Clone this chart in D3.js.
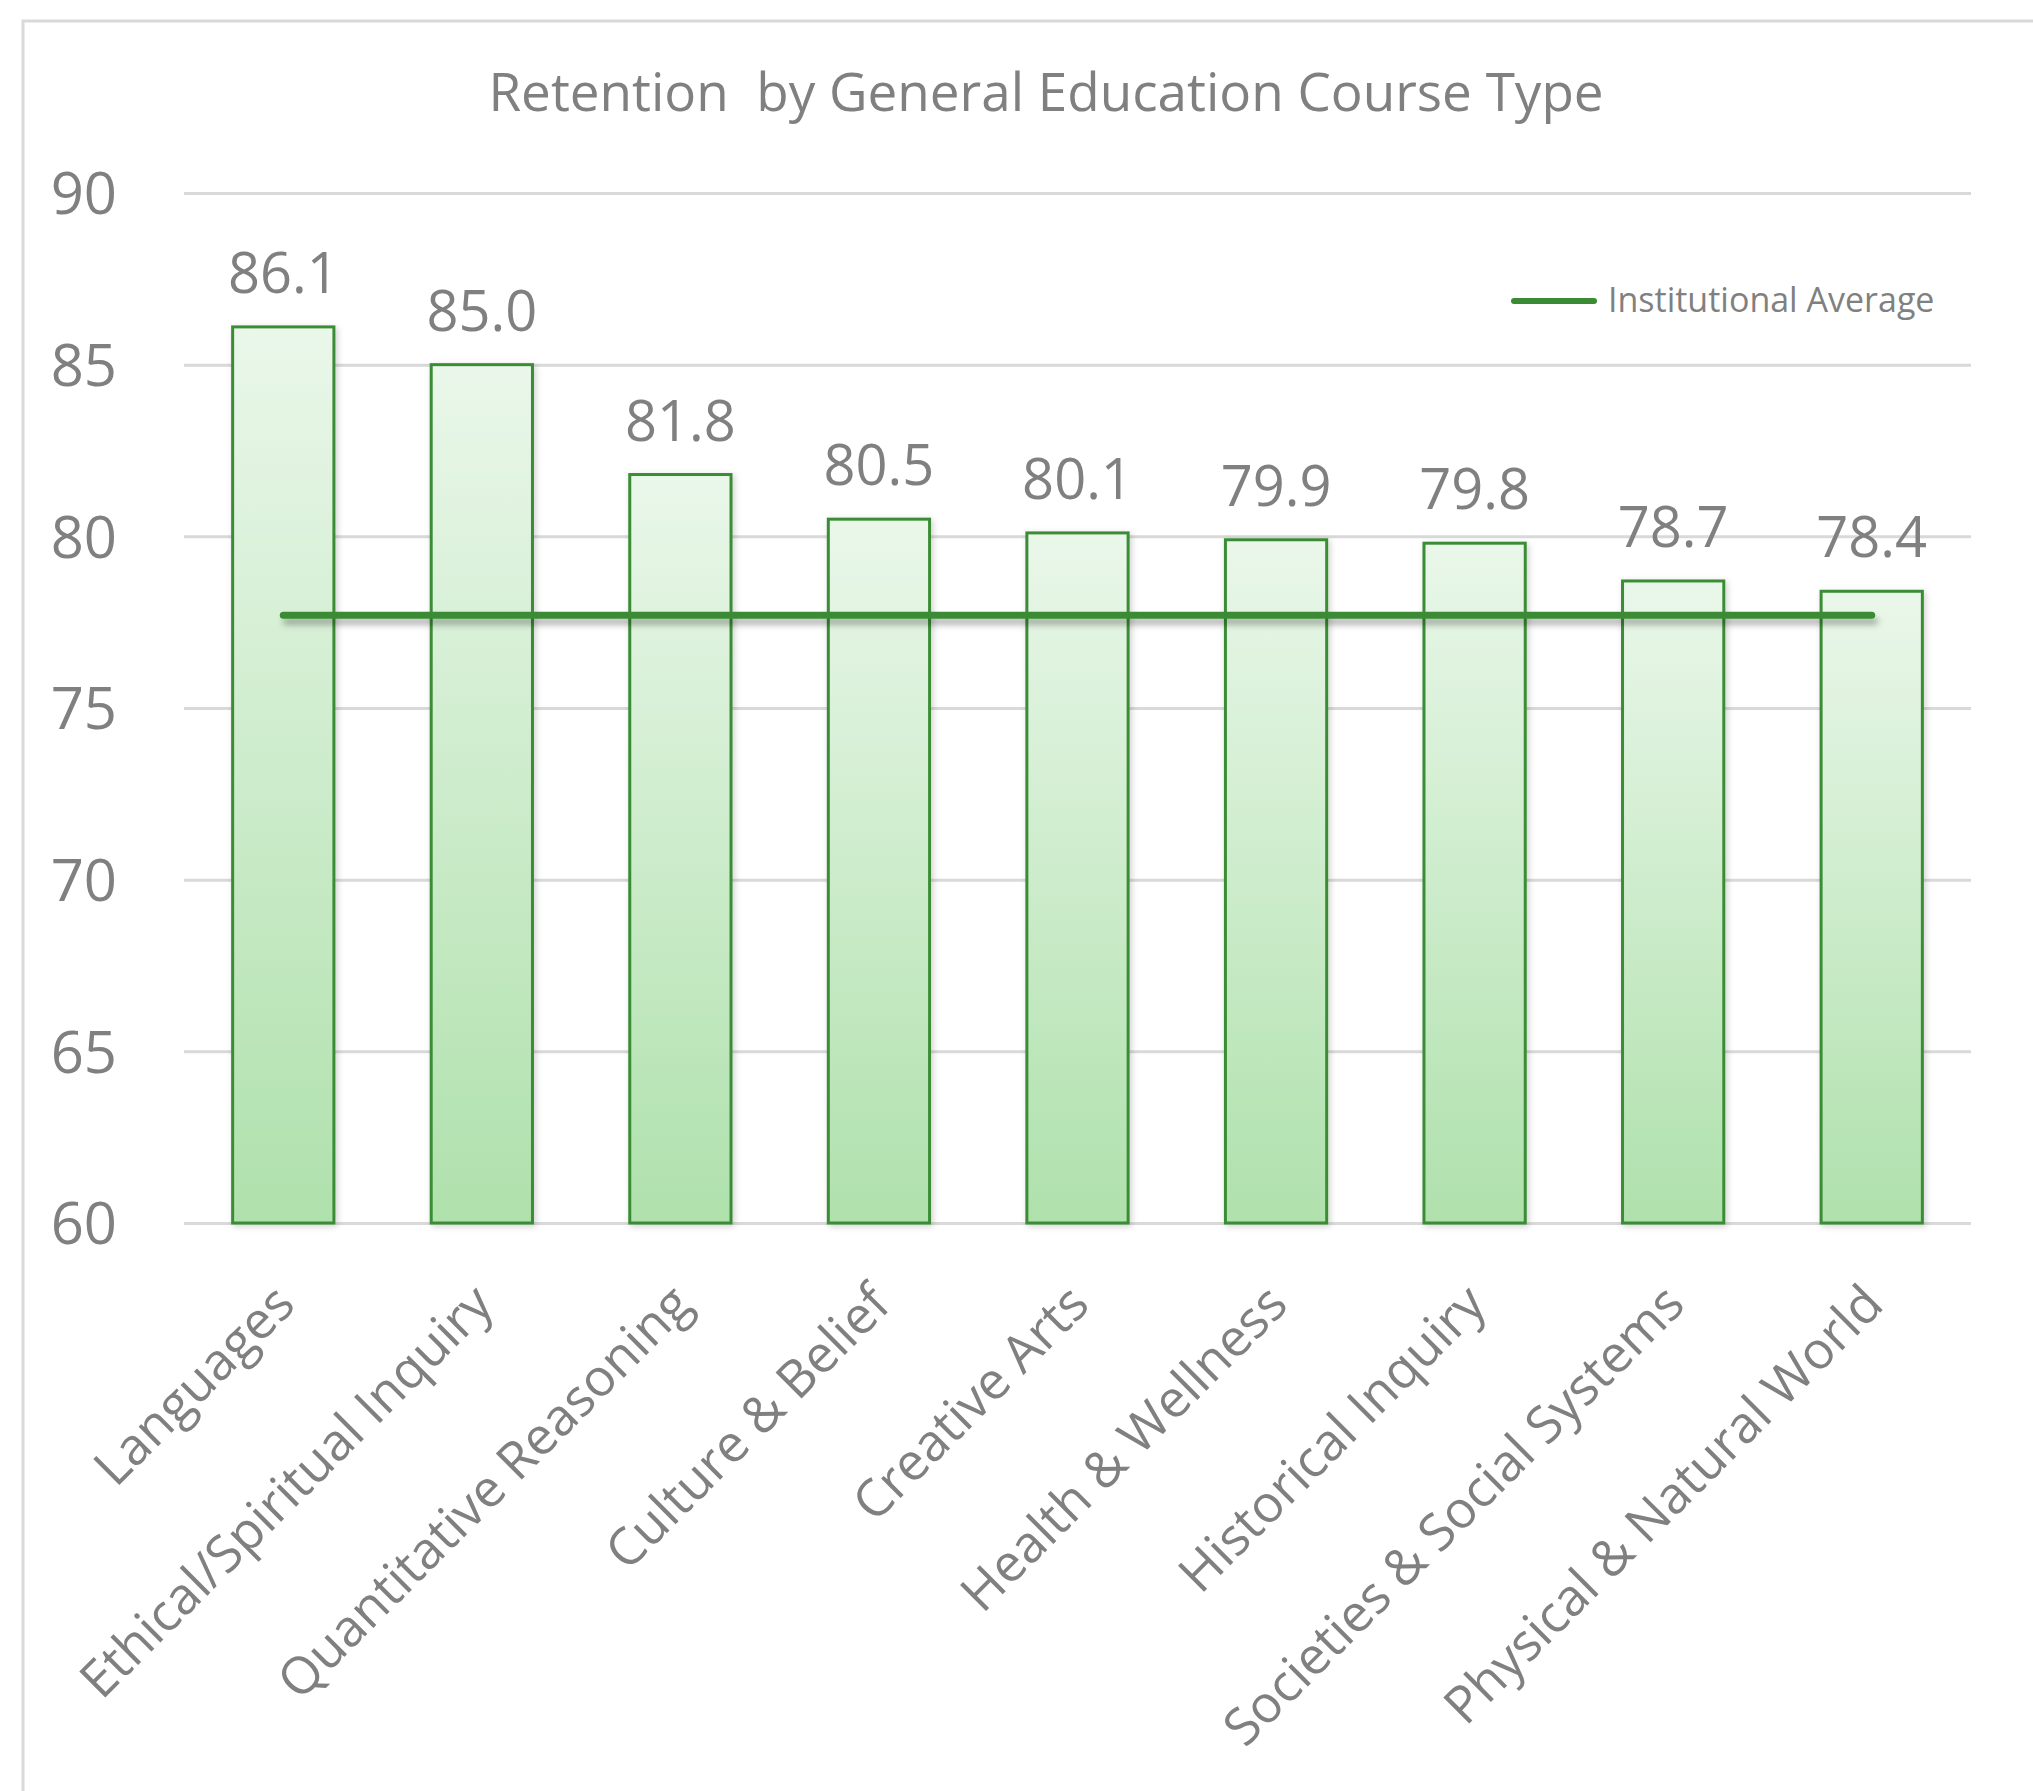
<!DOCTYPE html>
<html>
<head>
<meta charset="utf-8">
<script src="https://cdn.jsdelivr.net/npm/d3@7"></script>
<style>
  body { margin: 0; background: #fff; }
  text { font-family: "Open Sans", "Noto Sans", sans-serif; fill: #808080; }
</style>
</head>
<body>
<div id="chart"></div>
<script>
// ---------------------------------------------------------------------------
// DATA
// ---------------------------------------------------------------------------
const categories = [
    "Languages",
    "Ethical/Spiritual Inquiry",
    "Quantitative Reasoning",
    "Culture & Belief",
    "Creative Arts",
    "Health & Wellness",
    "Historical Inquiry",
    "Societies & Social Systems",
    "Physical & Natural World"
];
const retention = [86.1, 85.0, 81.8, 80.5, 80.1, 79.9, 79.8, 78.7, 78.4];
const institutionalAverage = 77.7;
const yTicks = [60, 65, 70, 75, 80, 85, 90];

// ---------------------------------------------------------------------------
// DIMENSIONS
// ---------------------------------------------------------------------------
const W = 2033, H = 1791;
const margin = { top: 193, right: 62, bottom: 568, left: 184 };
const width = W - margin.left - margin.right;
const height = H - margin.top - margin.bottom;

const root = d3.select('#chart')
    .append('svg')
    .attr('width', W)
    .attr('height', H);

// gradient + shadows
const defs = root.append('defs');
const grad = defs.append('linearGradient')
    .attr('id', 'barFill')
    .attr('x1', 0).attr('y1', 0).attr('x2', 0).attr('y2', 1);
grad.append('stop').attr('offset', '0%').attr('stop-color', '#eaf7ea');
grad.append('stop').attr('offset', '100%').attr('stop-color', '#afe1ac');

defs.append('filter').attr('id', 'barShadow')
    .attr('x', '-20%').attr('y', '-5%').attr('width', '140%').attr('height', '110%')
    .append('feDropShadow')
    .attr('dx', 2).attr('dy', 2).attr('stdDeviation', 3)
    .attr('flood-color', '#000').attr('flood-opacity', 0.18);

// the average line is flat, so its filter region has to be in user space
defs.append('filter').attr('id', 'lineShadow')
    .attr('filterUnits', 'userSpaceOnUse')
    .attr('x', 0).attr('y', -1000).attr('width', W).attr('height', 3000)
    .append('feDropShadow')
    .attr('dx', 3).attr('dy', 6).attr('stdDeviation', 3)
    .attr('flood-color', '#000').attr('flood-opacity', 0.3);

// chart area border
root.append('rect')
    .attr('x', 23).attr('y', 21)
    .attr('width', W + 50).attr('height', H + 50)
    .attr('fill', 'none')
    .attr('stroke', '#d9d9d9')
    .attr('stroke-width', 3);

const svg = root.append('g')
    .attr('transform', `translate(${margin.left},${margin.top})`);

// ---------------------------------------------------------------------------
// SCALES
// ---------------------------------------------------------------------------
const x = d3.scaleBand()
    .domain(categories)
    .range([0, width])
    .paddingInner(0.49)
    .paddingOuter(0.245);

const y = d3.scaleLinear()
    .domain([60, 90])
    .range([height, 0]);

// ---------------------------------------------------------------------------
// GRIDLINES + Y AXIS
// ---------------------------------------------------------------------------
const yAxis = d3.axisLeft(y)
    .tickValues(yTicks)
    .tickSize(-width)
    .tickPadding(67)
    .tickFormat(d3.format('d'));

const yG = svg.append('g')
    .attr('class', 'y-axis')
    .call(yAxis);
yG.select('.domain').remove();
yG.selectAll('.tick line')
    .attr('stroke', '#d9d9d9')
    .attr('stroke-width', 3);
yG.selectAll('.tick text')
    .attr('fill', '#808080')
    .attr('dy', '0.36em')
    .style('font-size', '58px');

// ---------------------------------------------------------------------------
// BARS
// ---------------------------------------------------------------------------
svg.append('g')
    .selectAll('rect')
    .data(categories)
    .join('rect')
    .attr('x', d => x(d))
    .attr('y', (d, i) => y(retention[i]))
    .attr('width', x.bandwidth())
    .attr('height', (d, i) => y(60) - y(retention[i]))
    .attr('fill', 'url(#barFill)')
    .attr('stroke', '#3a8d35')
    .attr('stroke-width', 3)
    .attr('filter', 'url(#barShadow)');

// data labels
svg.append('g')
    .selectAll('text')
    .data(categories)
    .join('text')
    .attr('x', d => x(d) + x.bandwidth() / 2)
    .attr('y', (d, i) => y(retention[i]) - 34)
    .attr('text-anchor', 'middle')
    .style('font-size', '56px')
    .text((d, i) => retention[i].toFixed(1));

// ---------------------------------------------------------------------------
// INSTITUTIONAL AVERAGE LINE
// ---------------------------------------------------------------------------
const avgLine = d3.line()
    .x(d => x(d) + x.bandwidth() / 2)
    .y(() => y(institutionalAverage));

svg.append('path')
    .datum(categories)
    .attr('fill', 'none')
    .attr('stroke', '#3b8b34')
    .attr('stroke-width', 7)
    .attr('stroke-linecap', 'round')
    .attr('filter', 'url(#lineShadow)')
    .attr('d', avgLine);

// ---------------------------------------------------------------------------
// X AXIS LABELS
// ---------------------------------------------------------------------------
const xAxis = d3.axisBottom(x).tickSize(0).tickPadding(0);
const xG = svg.append('g')
    .attr('class', 'x-axis')
    .attr('transform', `translate(0, ${height})`)
    .call(xAxis);
xG.select('.domain').remove();
xG.selectAll('.tick text')
    .attr('fill', '#808080')
    .attr('text-anchor', 'end')
    .attr('dy', 0)
    .attr('transform', 'translate(14, 84) rotate(-45)')
    .style('font-size', '51.5px');

// ---------------------------------------------------------------------------
// TITLE + LEGEND
// ---------------------------------------------------------------------------
root.append('text')
    .attr('x', 1046)
    .attr('y', 111)
    .attr('text-anchor', 'middle')
    .style('font-size', '53px')
    .style('white-space', 'pre')
    .text('Retention  by General Education Course Type');

const legend = root.append('g')
    .attr('transform', 'translate(1514, 301)');
legend.append('line')
    .attr('x1', 0).attr('x2', 80)
    .attr('y1', 0).attr('y2', 0)
    .attr('stroke', '#3b8b34')
    .attr('stroke-width', 6)
    .attr('stroke-linecap', 'round');
legend.append('text')
    .attr('x', 94)
    .attr('y', 11)
    .style('font-size', '34px')
    .text('Institutional Average');
</script>
</body>
</html>
